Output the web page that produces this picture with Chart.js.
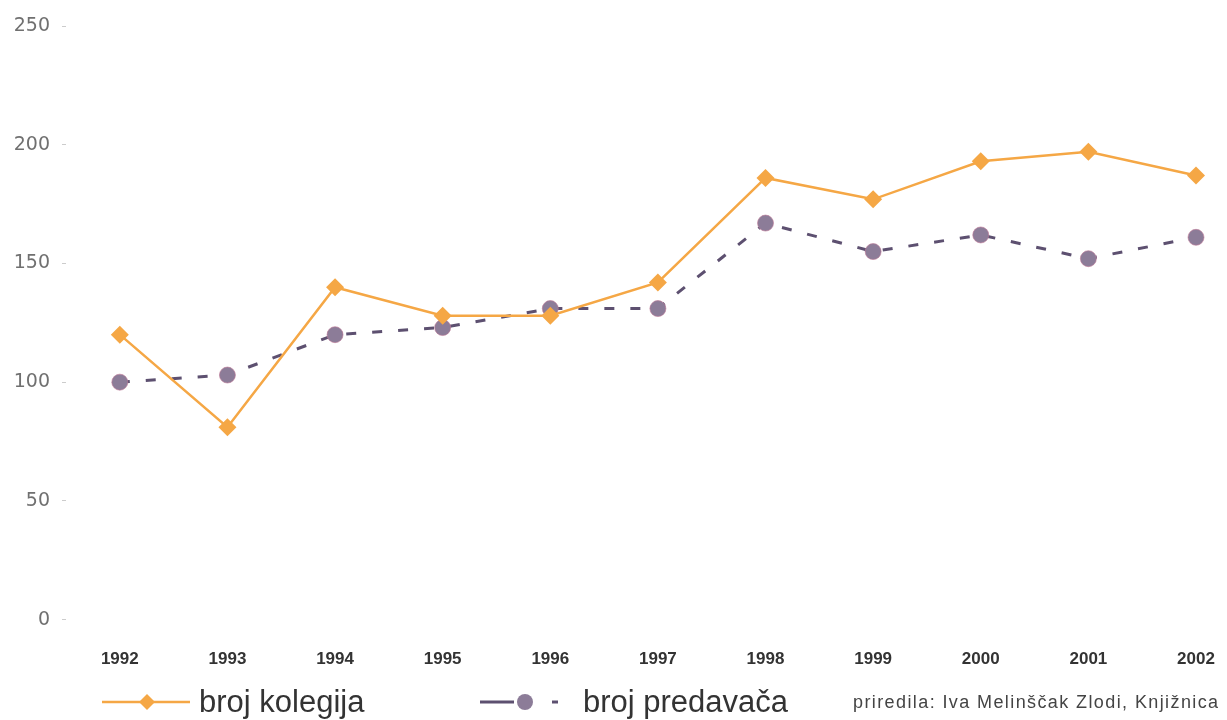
<!DOCTYPE html>
<html>
<head>
<meta charset="utf-8">
<script src="https://cdn.jsdelivr.net/npm/chart.js@4/dist/chart.umd.min.js"></script>
<style>
  html, body { margin: 0; padding: 0; background: #ffffff; }
  #wrap { width: 1227px; height: 720px; position: relative; }
</style>
</head>
<body>
<div id="wrap"><canvas id="c" width="1227" height="720"></canvas></div>
<script>
// Godine i vrijednosti
const years = [1992, 1993, 1994, 1995, 1996, 1997, 1998, 1999, 2000, 2001, 2002];
const brojKolegija = [120, 81, 140, 128, 128, 142, 186, 177, 193, 197, 187];
const brojPredavaca = [100, 103, 120, 123, 131, 131, 167, 155, 162, 152, 161];
const yTicks = [0, 50, 100, 150, 200, 250];
const seriesNames = ['broj kolegija', 'broj predavača'];
const creditText = 'priredila: Iva Melinščak Zlodi, Knjižnica';

const ORANGE = '#f5a745';
const PURPLE_LINE = '#5d5070';
const PURPLE_DOT = '#8c7c98';

// Legenda i potpis ispod grafikona
const bottomLegend = {
  id: 'bottomLegend',
  afterDraw(chart) {
    const ctx = chart.ctx;
    const y = chart.height - 18;
    ctx.save();
    // broj kolegija
    ctx.strokeStyle = ORANGE;
    ctx.lineWidth = 2.5;
    ctx.beginPath(); ctx.moveTo(102, y); ctx.lineTo(190, y); ctx.stroke();
    ctx.fillStyle = ORANGE;
    ctx.beginPath();
    ctx.moveTo(147, y - 8); ctx.lineTo(155, y); ctx.lineTo(147, y + 8); ctx.lineTo(139, y);
    ctx.closePath(); ctx.fill();
    ctx.fillStyle = '#333333';
    ctx.font = '31px "Liberation Sans", Arial, sans-serif';
    ctx.textBaseline = 'middle';
    ctx.textAlign = 'left';
    ctx.fillText(seriesNames[0], 199, y + 1);
    // broj predavača
    ctx.strokeStyle = PURPLE_LINE;
    ctx.lineWidth = 3;
    ctx.beginPath(); ctx.moveTo(480, y); ctx.lineTo(514, y); ctx.stroke();
    ctx.beginPath(); ctx.moveTo(552, y); ctx.lineTo(558, y); ctx.stroke();
    ctx.fillStyle = PURPLE_DOT;
    ctx.beginPath(); ctx.arc(525, y, 8, 0, Math.PI * 2); ctx.fill();
    ctx.fillStyle = '#333333';
    ctx.fillText(seriesNames[1], 583, y + 1);
    // potpis
    ctx.font = '18px "Liberation Sans", Arial, sans-serif';
    ctx.letterSpacing = '1.4px';
    ctx.fillStyle = '#444444';
    ctx.fillText(creditText, 853, y + 1);
    ctx.restore();
  }
};

new Chart(document.getElementById('c'), {
  type: 'line',
  data: {
    datasets: [
      {
        label: seriesNames[0],
        data: years.map((yr, i) => ({ x: yr, y: brojKolegija[i] })),
        borderColor: ORANGE,
        backgroundColor: ORANGE,
        borderWidth: 2.5,
        pointStyle: 'rectRot',
        pointRadius: 9,
        pointBorderWidth: 0,
        pointBackgroundColor: ORANGE,
        tension: 0,
        clip: false
      },
      {
        label: seriesNames[1],
        data: years.map((yr, i) => ({ x: yr, y: brojPredavaca[i] })),
        borderColor: PURPLE_LINE,
        backgroundColor: PURPLE_DOT,
        borderWidth: 3,
        borderDash: [10, 16],
        pointStyle: 'circle',
        pointRadius: 8,
        pointBorderWidth: 1,
        pointBorderColor: 'rgba(190,120,150,0.6)',
        pointBackgroundColor: PURPLE_DOT,
        tension: 0,
        clip: false
      }
    ]
  },
  options: {
    responsive: false,
    animation: false,
    layout: { padding: { left: 0, right: 31, top: 26, bottom: 20 } },
    plugins: { legend: { display: false }, tooltip: { enabled: false } },
    scales: {
      x: {
        type: 'linear',
        min: years[0] - 0.5,
        max: years[years.length - 1],
        afterBuildTicks(scale) { scale.ticks = years.map(v => ({ value: v })); },
        afterFit(scale) { scale.paddingRight = 0; scale.paddingLeft = 0; },
        grid: { display: false, drawTicks: false },
        border: { display: false },
        ticks: {
          padding: 30,
          color: '#333333',
          font: { family: '"Liberation Sans", Arial, sans-serif', size: 17, weight: 'bold' },
          callback: v => String(v),
          maxRotation: 0,
          autoSkip: false
        }
      },
      y: {
        min: yTicks[0],
        max: yTicks[yTicks.length - 1],
        afterBuildTicks(scale) { scale.ticks = yTicks.map(v => ({ value: v })); },
        afterFit(scale) { scale.width = 66; },
        grid: { drawOnChartArea: false, tickLength: 4, color: '#cccccc' },
        border: { display: false },
        ticks: {
          padding: 12,
          color: '#707070',
          font: { family: '"DejaVu Sans", sans-serif', size: 19 }
        }
      }
    }
  },
  plugins: [bottomLegend]
});
</script>
</body>
</html>
